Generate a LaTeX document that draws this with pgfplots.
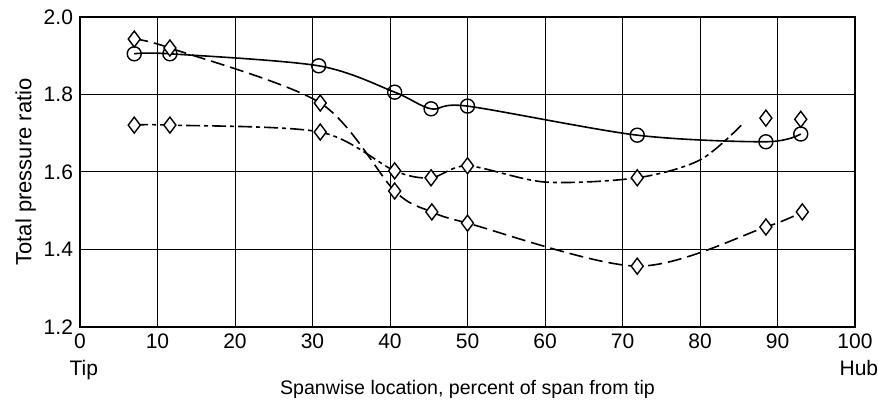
\documentclass[border=0pt]{standalone}
\usepackage{fontspec}
\setmainfont{Liberation Sans}
\usepackage{pgfplots}
\pgfplotsset{compat=1.18}

% circles: solid line
\pgfplotstableread{
x y
7 1.905
11.6 1.905
30.8 1.874
40.6 1.806
45.3 1.763
50 1.770
71.9 1.695
88.5 1.678
93 1.698
}\circdata

% diamonds on long-dash line
\pgfplotstableread{
x y
7 1.943
11.6 1.920
31 1.778
40.6 1.551
45.4 1.497
50 1.468
71.9 1.357
88.5 1.458
93.2 1.497
}\dashdata

% diamonds on dash-dot line
\pgfplotstableread{
x y
7 1.721
11.6 1.721
31 1.703
40.6 1.603
45.3 1.585
50 1.616
71.9 1.585
88.5 1.739
93 1.736
}\dotdata

\begin{document}
\begin{tikzpicture}
\begin{axis}[
  scale only axis,
  width=387.5pt, height=155pt,
  xmin=0, xmax=100, ymin=1.2, ymax=2.0,
  xtick={0,10,...,100},
  ytick={1.2,1.4,1.6,1.8,2.0},
  yticklabel style={/pgf/number format/.cd,fixed,fixed zerofill,precision=1,assume math mode=true},
  xticklabel style={/pgf/number format/assume math mode=true},
  tick label style={font=\fontsize{10.5}{12}\selectfont},
  major tick length=0pt,
  grid=major,
  grid style={black, line width=0.5pt},
  axis line style={black, line width=0.6pt},
  xlabel={Spanwise location, percent of span from tip},
  ylabel={Total pressure ratio},
  xlabel style={font=\fontsize{9.8}{12}\selectfont, yshift=-9pt},
  ylabel style={font=\fontsize{11}{13}\selectfont, yshift=-3pt},
  clip=false,
]
% faired curves
\addplot[black, line width=0.8pt, smooth, tension=0.5] table {\circdata};
\addplot[black, line width=0.8pt, smooth, tension=0.5, dash pattern=on 7pt off 3pt] table {\dashdata};
\addplot[black, line width=0.8pt, smooth, tension=0.5, dash pattern=on 7pt off 2pt on 2pt off 2pt] table {
x y
7 1.721
11.6 1.721
31 1.703
40.6 1.603
45.3 1.585
50 1.616
60 1.574
71.9 1.585
80 1.631
85.5 1.724
};
% symbols
\addplot[only marks, mark=o, mark size=3.5pt, mark options={fill=white, line width=0.7pt}] table {\circdata};
\addplot[only marks, mark=diamond*, mark size=4pt, mark options={fill=white, line width=0.7pt}] table {\dashdata};
\addplot[only marks, mark=diamond*, mark size=4pt, mark options={fill=white, line width=0.7pt}] table {\dotdata};
\node[anchor=north, font=\fontsize{10.5}{12}\selectfont] at (axis cs:0.5,1.2) [yshift=-13pt] {Tip};
\node[anchor=north, font=\fontsize{10.5}{12}\selectfont] at (axis cs:100.5,1.2) [yshift=-13pt] {Hub};
\coordinate (sw) at (rel axis cs:0,0);
\coordinate (ne) at (rel axis cs:1,1);
\end{axis}
\pgfresetboundingbox
\path (sw) ++(-40pt,-39.5pt) coordinate (bl);
\path (ne) ++(11.5pt,8.5pt) coordinate (tr);
\path[use as bounding box] (bl) rectangle (tr);
\end{tikzpicture}
\end{document}
